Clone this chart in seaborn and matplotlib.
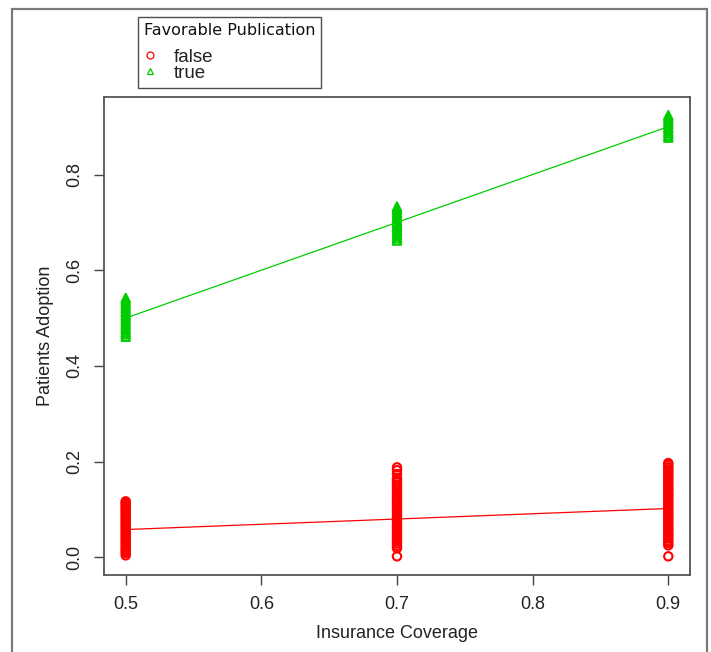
import matplotlib
matplotlib.use("Agg")
import matplotlib.pyplot as plt
from matplotlib.patches import Rectangle
from matplotlib.lines import Line2D
import seaborn as sns
import pandas as pd

# ---- data ----
coverage_levels = [0.5, 0.7, 0.9]

red_05 = [0.004, 0.009, 0.013, 0.017, 0.021, 0.026, 0.030, 0.034, 0.038, 0.042,
          0.047, 0.051, 0.055, 0.059, 0.063, 0.067, 0.071, 0.075, 0.079, 0.083,
          0.087, 0.091, 0.095, 0.099, 0.103, 0.107, 0.111, 0.114, 0.117]
red_07 = [0.002, 0.019, 0.024, 0.029, 0.033, 0.038, 0.042, 0.047, 0.052, 0.056,
          0.061, 0.065, 0.070, 0.075, 0.079, 0.084, 0.088, 0.093, 0.097, 0.102,
          0.107, 0.111, 0.116, 0.120, 0.125, 0.129, 0.134, 0.139, 0.143, 0.148,
          0.152, 0.157, 0.161, 0.165, 0.174, 0.182, 0.188]
red_09 = [0.002, 0.025, 0.030, 0.034, 0.039, 0.044, 0.048, 0.053, 0.058, 0.062,
          0.067, 0.072, 0.076, 0.081, 0.086, 0.090, 0.095, 0.100, 0.104, 0.109,
          0.114, 0.118, 0.123, 0.128, 0.132, 0.137, 0.142, 0.146, 0.151, 0.156,
          0.160, 0.165, 0.170, 0.174, 0.179, 0.184, 0.188, 0.193, 0.197]
green_05 = [0.461, 0.466, 0.470, 0.475, 0.479, 0.484, 0.488, 0.493, 0.497, 0.502,
            0.506, 0.511, 0.515, 0.520, 0.524, 0.529, 0.533, 0.538, 0.542]
green_07 = [0.662, 0.667, 0.672, 0.676, 0.681, 0.685, 0.690, 0.694, 0.699, 0.703,
            0.708, 0.712, 0.717, 0.721, 0.726, 0.729, 0.733]
green_09 = [0.877, 0.881, 0.886, 0.890, 0.895, 0.899, 0.904, 0.908, 0.913, 0.917,
            0.921, 0.924]

fit_red = [0.058, 0.080, 0.102]
fit_green = [0.500, 0.700, 0.900]

x_ticks = [0.5, 0.6, 0.7, 0.8, 0.9]
x_tick_labels = ["0.5", "0.6", "0.7", "0.8", "0.9"]
y_ticks = [0.0, 0.2, 0.4, 0.6, 0.8]
y_tick_labels = ["0.0", "0.2", "0.4", "0.6", "0.8"]

legend_title = "Favorable Publication"
groups = ["false", "true"]
colors = {"false": "#FF0000", "true": "#00CD00"}
markers = {"false": "o", "true": "^"}

# ---- build long tables ----
rows = []
for grp, cols in (("false", [red_05, red_07, red_09]), ("true", [green_05, green_07, green_09])):
    for xv, ys in zip(coverage_levels, cols):
        for yv in ys:
            rows.append((xv, yv, grp))
df = pd.DataFrame(rows, columns=["coverage", "adoption", "publication"])

fit_rows = []
for grp, fit in (("false", fit_red), ("true", fit_green)):
    for xv, yv in zip(coverage_levels, fit):
        fit_rows.append((xv, yv, grp))
fit_df = pd.DataFrame(fit_rows, columns=["coverage", "adoption", "publication"])

sns.set_style("white")
plt.rcParams["font.family"] = ["Liberation Sans", "DejaVu Sans"]

fig = plt.figure(figsize=(7.11, 6.52), dpi=100)
ax = fig.add_axes([104 / 711, 1 - 575 / 652, (690 - 104) / 711, (575 - 97) / 652])

sns.lineplot(data=fit_df, x="coverage", y="adoption", hue="publication",
             palette=colors, hue_order=groups, linewidth=0.9, ax=ax, legend=False,
             zorder=3)
sns.scatterplot(data=df, x="coverage", y="adoption", hue="publication",
                style="publication", palette=colors, markers=markers,
                hue_order=groups, style_order=groups, s=36, linewidth=1.5,
                ax=ax, legend=False, zorder=2)
for coll in ax.collections:
    fc = coll.get_facecolors()
    coll.set_edgecolors(fc)
    coll.set_facecolors("none")

ax.set_xlim(0.484, 0.916)
ax.set_ylim(-0.037, 0.962)
ax.set_xticks(x_ticks)
ax.set_xticklabels(x_tick_labels)
ax.set_yticks(y_ticks)
ax.set_yticklabels(y_tick_labels, rotation=90, va="center")

for sp in ax.spines.values():
    sp.set_visible(True)
    sp.set_color("#555555")
    sp.set_linewidth(1.3)
ax.tick_params(axis="both", direction="out", length=7, width=1.0, color="#444444",
               labelsize=13, labelcolor="#222222", left=True, bottom=True)
ax.tick_params(axis="x", pad=8)
ax.tick_params(axis="y", pad=8)

ax.set_xlabel("Insurance Coverage", fontsize=13, color="#222222", labelpad=9)
ax.set_ylabel("Patients Adoption", fontsize=13, color="#222222", labelpad=9)

# legend outside the axes, at the top
handles = [Line2D([], [], linestyle="none", marker=markers[g], markersize=5,
                  markerfacecolor="none", markeredgecolor=colors[g],
                  markeredgewidth=0.9) for g in groups]
leg = ax.legend(handles, groups, title=legend_title, loc="upper left",
                bbox_to_anchor=(138 / 711, 1 - 17 / 652),
                bbox_transform=fig.transFigure, frameon=True, fancybox=False,
                edgecolor="#222222", fontsize=13.5, title_fontsize=11.5,
                alignment="left", handlelength=0.7, handletextpad=0.9,
                borderpad=0.3, labelspacing=-0.05, borderaxespad=0)
leg.get_frame().set_linewidth(1.0)
leg.get_title().set_family("DejaVu Sans")
leg.get_title().set_color("#111111")
for t in leg.get_texts():
    t.set_color("#222222")
leg._legend_box.sep = 8

# outer screenshot frame
fig.add_artist(Rectangle((12 / 711, -0.05), (707 - 12) / 711, 1.05 - 9 / 652,
                         transform=fig.transFigure, fill=False,
                         edgecolor="#7a7a7a", linewidth=1.6))

fig.savefig("out.png", dpi=100)
